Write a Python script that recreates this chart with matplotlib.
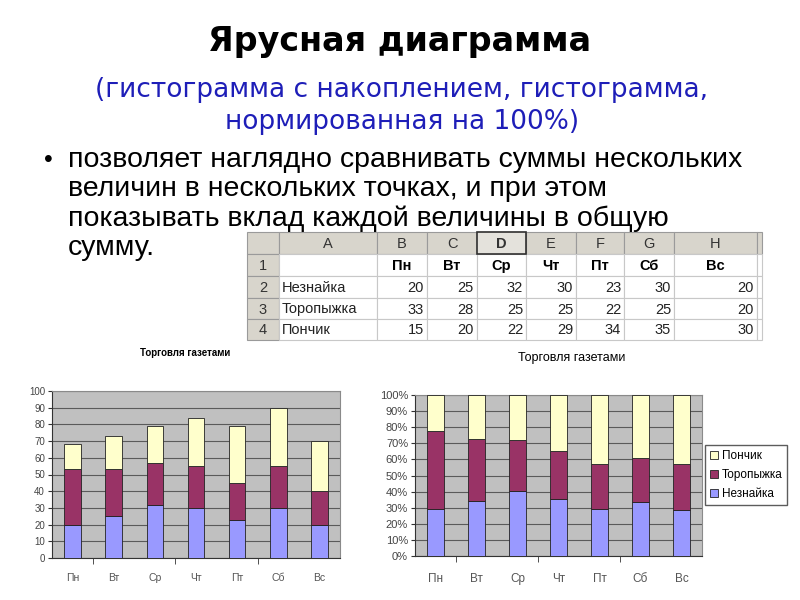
import numpy as np
import matplotlib
matplotlib.use("Agg")
import matplotlib.pyplot as plt
from matplotlib.patches import Rectangle, Patch

plt.rcParams["font.family"] = ["Liberation Sans", "DejaVu Sans"]

# data from the spreadsheet on the slide
days = ["Пн", "Вт", "Ср", "Чт", "Пт", "Сб", "Вс"]
names = ["Незнайка", "Торопыжка", "Пончик"]
neznaika = [20, 25, 32, 30, 23, 30, 20]
toropyzhka = [33, 28, 25, 25, 22, 25, 20]
ponchik = [15, 20, 22, 29, 34, 35, 30]
col_letters = ["A", "B", "C", "D", "E", "F", "G", "H"]
row_numbers = ["1", "2", "3", "4"]

series = [neznaika, toropyzhka, ponchik]
colors = ["#9999FF", "#993366", "#FFFFCC"]

W, H = 800, 600
fig = plt.figure(figsize=(8, 6), dpi=100)


def px_axes(x0, y0, x1, y1):
    """Axes placed by pixel box (y from top)."""
    return fig.add_axes([x0 / W, 1 - y1 / H, (x1 - x0) / W, (y1 - y0) / H])


# overlay in pixel coordinates for slide text and the table
bg = fig.add_axes([0, 0, 1, 1])
bg.set_xlim(0, W)
bg.set_ylim(H, 0)
bg.axis("off")

wide = ["DejaVu Sans"]
bg.text(400, 42, "Ярусная диаграмма", ha="center", va="center",
        fontsize=24, fontweight="bold", family=wide)
blue = "#1E1EB8"
bg.text(402, 90, "(гистограмма с накоплением, гистограмма,", ha="center",
        va="center", fontsize=19, color=blue, family=wide)
bg.text(402, 122, "нормированная на 100%)", ha="center", va="center",
        fontsize=19, color=blue, family=wide)

bullet_lines = [
    "позволяет наглядно сравнивать суммы нескольких",
    "величин в нескольких точках, и при этом",
    "показывать вклад каждой величины в общую",
    "сумму.",
]
bg.text(48, 160, "•", ha="center", va="center", fontsize=18)
for i, line in enumerate(bullet_lines):
    bg.text(68, 160 + 29.3 * i, line, ha="left", va="center", fontsize=20.5)

# --- spreadsheet table ---
xe = [247, 279, 377, 427, 477, 526, 576, 624, 674, 757, 762]
ye = [232, 254, 276, 298, 319, 340]
head_fc = "#D8D5CC"
grid_c = "#C8C8C8"
for j in range(len(xe) - 1):
    bg.add_patch(Rectangle((xe[j], ye[0]), xe[j + 1] - xe[j], ye[1] - ye[0],
                           fc=head_fc, ec="#9A9A9A", lw=0.8))
for i in range(1, len(ye) - 1):
    bg.add_patch(Rectangle((xe[0], ye[i]), xe[1] - xe[0], ye[i + 1] - ye[i],
                           fc=head_fc, ec="#9A9A9A", lw=0.8))
    for j in range(1, len(xe) - 1):
        bg.add_patch(Rectangle((xe[j], ye[i]), xe[j + 1] - xe[j],
                               ye[i + 1] - ye[i], fc="white", ec=grid_c, lw=0.8))
# selected column header D
bg.add_patch(Rectangle((xe[4], ye[0]), xe[5] - xe[4], ye[1] - ye[0],
                       fc="#E4E2DC", ec="#303030", lw=1.2))

tfs = 10.5
for j, letter in enumerate(col_letters):
    bg.text((xe[j + 1] + xe[j + 2]) / 2, (ye[0] + ye[1]) / 2 + 1, letter,
            ha="center", va="center", fontsize=tfs, color="#333333",
            fontweight="bold" if letter == "D" else "normal")
for i, rn in enumerate(row_numbers):
    bg.text((xe[0] + xe[1]) / 2, (ye[i + 1] + ye[i + 2]) / 2 + 1, rn,
            ha="center", va="center", fontsize=tfs, color="#333333")
for j, d in enumerate(days):
    bg.text((xe[j + 2] + xe[j + 3]) / 2, (ye[1] + ye[2]) / 2 + 1, d,
            ha="center", va="center", fontsize=tfs, fontweight="bold")
for i, (nm, vals) in enumerate(zip(names, series)):
    yc = (ye[i + 2] + ye[i + 3]) / 2 + 1
    bg.text(xe[1] + 3, yc, nm, ha="left", va="center", fontsize=tfs,
            color="#222222")
    for j, v in enumerate(vals):
        bg.text(xe[j + 3] - 3, yc, str(v), ha="right", va="center",
                fontsize=tfs, color="#222222")

# --- charts ---
x = np.arange(len(days))
bar_w = 0.4
plot_bg = "#C0C0C0"


def style_chart(ax, yticks, ylabels, xfs, yfs, xpad):
    ax.set_facecolor(plot_bg)
    ax.set_xlim(-0.5, len(days) - 0.5)
    ax.set_ylim(0, 100)
    ax.set_yticks(yticks)
    ax.set_yticklabels(ylabels)
    ax.yaxis.grid(True, color="#5A5A5A", lw=0.8)
    ax.set_axisbelow(True)
    ax.set_xticks(x)
    ax.set_xticklabels(days)
    ax.set_xticks([0.5, 2.5, 4.5], minor=True)
    ax.tick_params(axis="x", which="major", length=0, pad=xpad,
                   labelsize=xfs, labelcolor="#555555")
    ax.tick_params(axis="x", which="minor", length=4, color="#333333")
    ax.tick_params(axis="y", length=3, labelsize=yfs, labelcolor="#444444",
                   color="#333333", pad=2)
    for s in ("top", "right"):
        ax.spines[s].set_color("#8A8A8A")
        ax.spines[s].set_linewidth(0.8)
    for s in ("left", "bottom"):
        ax.spines[s].set_color("#333333")
        ax.spines[s].set_linewidth(0.8)


# stacked
ax1 = px_axes(52, 391, 340, 558)
bottom = np.zeros(len(days))
for vals, c in zip(series, colors):
    ax1.bar(x, vals, bar_w, bottom=bottom, color=c, edgecolor="#222222",
            lw=0.6, zorder=3)
    bottom += np.array(vals)
style_chart(ax1, np.arange(0, 101, 10),
            [str(v) for v in range(0, 101, 10)], 7.5, 7, 11)
bg.text(185, 353, "Торговля газетами", ha="center", va="center",
        fontsize=7, fontweight="bold")

# 100% stacked
ax2 = px_axes(415, 395, 702, 556)
totals = np.sum(series, axis=0)
bottom = np.zeros(len(days))
for vals, c in zip(series, colors):
    share = np.array(vals) / totals * 100
    ax2.bar(x, share, bar_w, bottom=bottom, color=c, edgecolor="#222222",
            lw=0.6, zorder=3)
    bottom += share
style_chart(ax2, np.arange(0, 101, 10),
            [f"{v}%" for v in range(0, 101, 10)], 8.5, 8, 12)
bg.text(572, 358, "Торговля газетами", ha="center", va="center",
        fontsize=9)

handles = [Patch(fc=c, ec="#222222", lw=0.6, label=n)
           for n, c in zip(names, colors)][::-1]
fig.legend(handles=handles, loc="center left",
           bbox_to_anchor=(705 / W, 1 - 475 / H), frameon=True,
           fancybox=False, edgecolor="#333333", fontsize=8.5,
           handlelength=0.7, handleheight=0.7, handletextpad=0.3,
           borderpad=0.4, labelspacing=0.6, borderaxespad=0)

fig.savefig("out.png", dpi=100)
